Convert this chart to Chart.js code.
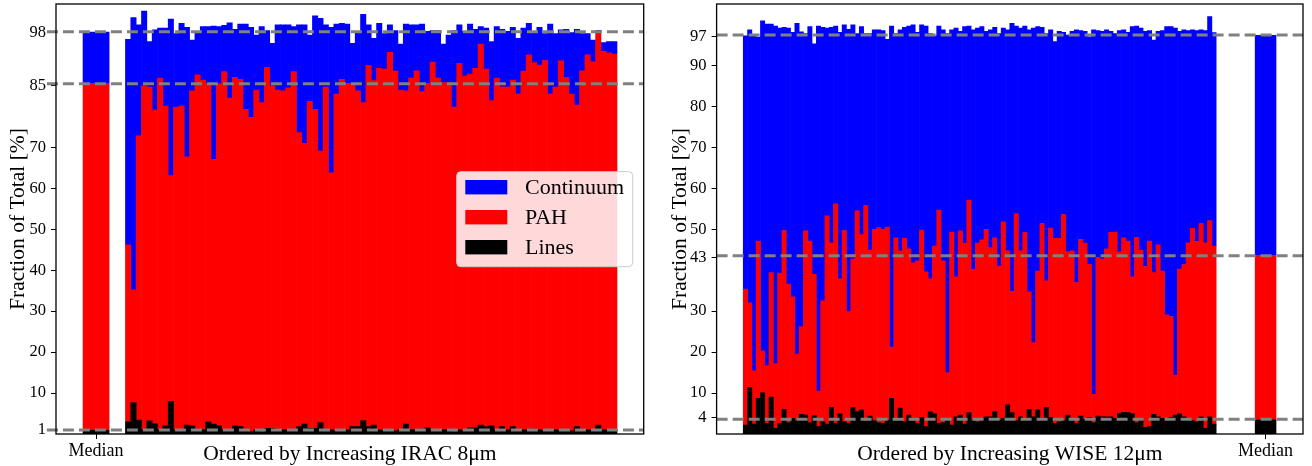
<!DOCTYPE html>
<html><head><meta charset="utf-8">
<script src="https://cdn.jsdelivr.net/npm/chart.js@4.4.0/dist/chart.umd.min.js"></script>
<style>
html,body{margin:0;padding:0;background:#fff;width:1312px;height:466px;overflow:hidden}
canvas{position:absolute;top:0}
#cl{left:0}
#cr{left:656px}
</style></head><body>
<canvas id="cl" width="656" height="466"></canvas>
<canvas id="cr" width="656" height="466"></canvas>
<script>
// ---------- tick labels ----------
const yTicksIRAC = [1,10,20,30,40,50,60,70,85,98];
const yTicksWISE = [4,10,20,30,43,50,60,70,80,90,97];
const seriesNames = ['Lines','PAH','Continuum'];

// ---------- IRAC 8um ordered sample (percent of total) ----------
const iracLines = [3.0,7.7,3.4,1.0,3.2,2.5,1.0,2.0,8.0,1.1,
 1.0,2.2,2.0,1.0,1.1,3.0,2.4,2.0,1.0,1.0,
 2.0,1.8,1.0,0.6,1.0,0.6,1.4,1.4,1.0,1.1,
 1.0,1.0,1.8,2.4,1.4,1.4,2.8,1.0,1.0,0.8,
 1.0,1.0,1.8,1.8,3.3,1.8,2.2,1.0,0.8,1.0,
 0.8,1.0,2.4,1.1,1.0,1.2,1.5,1.0,1.0,1.1,
 1.0,0.6,1.0,0.7,1.5,1.5,2.2,1.8,2.0,1.0,
 1.8,1.0,1.8,0.8,1.0,1.0,1.2,1.0,0.8,1.0,
 1.0,0.8,1.0,0.8,1.8,1.0,1.0,1.0,2.2,1.0,
 1.0,1.0];
const iracPAH = [43.2,27.5,69.4,84.0,81.5,76.6,85.9,78.1,55.1,78.7,
 79.1,65.5,81.8,86.7,85.3,82.5,64.7,83.5,87.5,81.0,
 85.1,84.8,78.3,76.7,83.0,80.3,88.1,83.6,83.0,82.7,
 83.5,87.5,71.8,68.6,79.8,77.9,66.3,83.7,62.8,82.2,
 85.6,84.6,83.8,82.0,77.6,88.2,84.1,88.3,88.3,92.2,
 87.8,83.0,81.4,85.8,87.7,82.4,84.1,89.8,85.9,84.7,
 84.8,79.2,89.5,86.7,86.4,87.8,93.0,87.3,79.4,85.9,
 83.0,83.7,84.6,82.2,87.6,91.6,89.5,89.1,90.4,82.0,
 83.7,90.3,86.1,82.2,78.5,87.7,91.6,89.9,96.1,92.4,
 92.1,91.8];
const iracCont = [50.2,66.5,27.1,18.3,11.1,19.6,12.2,19.0,38.2,18.0,
 20.2,31.6,12.4,10.6,13.1,14.0,32.5,14.0,11.3,18.4,
 11.7,13.5,20.8,22.0,13.4,18.6,9.0,10.4,15.9,16.1,
 15.4,11.0,26.3,28.9,16.2,22.8,32.4,15.2,35.5,17.1,
 13.7,14.5,9.8,14.2,21.6,9.9,10.3,11.0,8.7,6.7,
 9.9,11.2,16.3,13.0,11.2,16.5,12.7,7.7,11.6,9.4,
 11.6,18.7,9.4,10.9,12.2,9.5,4.3,10.0,14.4,12.6,
 14.0,13.6,12.9,13.6,10.5,7.7,7.3,9.2,6.6,17.1,
 13.1,7.6,11.7,15.0,18.5,9.1,5.2,5.3,0.3,2.2,
 2.7,3.0];
const iracMedian = [1.0, 84.5, 12.7]; // Lines, PAH, Continuum

// ---------- WISE 12um ordered sample (percent of total) ----------
const wiseLines = [2.2,11.4,2.4,8.7,10.1,2.6,9.0,1.4,2.6,6.0,
 2.8,3.8,3.3,4.8,4.6,2.8,4.5,1.8,3.0,2.4,
 6.5,2.6,5.0,3.0,2.6,6.5,5.5,5.9,3.3,4.4,
 3.3,2.8,2.6,3.3,8.7,3.3,6.3,3.0,4.6,3.3,
 2.6,4.1,1.8,5.5,5.0,2.6,2.8,3.4,2.2,4.2,
 4.6,2.4,5.2,3.3,3.0,3.8,4.2,4.2,5.5,3.4,
 3.8,7.1,5.2,3.3,4.2,3.4,6.0,4.2,5.9,3.6,
 6.5,4.1,2.6,3.0,3.3,4.6,3.6,2.6,4.4,3.6,
 4.1,2.8,4.4,4.2,4.2,4.2,3.8,5.0,5.3,5.2,
 5.0,2.8,3.6,1.6,1.8,4.8,4.2,3.8,3.4,4.1,
 4.6,4.9,4.2,3.4,3.3,3.0,4.2,1.4,4.2,2.4];
const wisePAH = [33.2,20.6,13.0,38.4,10.2,14.1,30.4,15.8,36.7,43.7,
 33.8,29.7,16.2,21.4,45.0,44.3,34.5,8.7,29.5,50.9,
 40.1,53.6,32.9,46.7,27.3,36.2,49.0,42.8,52.5,40.5,
 46.7,47.6,47.4,47.2,12.5,44.6,38.4,44.8,40.6,38.5,
 39.7,45.7,37.8,32.4,40.9,52.1,39.5,11.6,47.1,34.2,
 45.0,44.2,51.9,36.9,43.6,43.6,45.8,41.3,42.4,37.6,
 48.0,37.6,29.6,50.5,40.5,45.8,28.7,18.1,33.9,47.8,
 30.9,46.2,45.2,44.8,50.3,39.9,41.1,34.4,43.1,43.0,
 37.3,6.9,38.7,38.5,41.0,45.0,45.5,39.5,42.6,41.9,
 33.4,45.2,41.3,39.3,45.3,34.6,42.0,36.0,25.7,24.6,
 9.8,35.4,37.2,43.3,46.9,44.0,47.2,45.3,47.9,43.5];
const wiseCont = [61.8,66.7,82.0,49.8,80.6,83.4,60.7,82.4,59.8,49.6,
 62.5,64.6,80.8,72.0,48.2,52.4,56.3,89.1,66.8,45.8,
 52.7,43.4,60.2,50.2,68.9,57.2,43.3,50.8,42.0,52.9,
 48.7,48.3,48.5,45.9,78.4,49.9,54.0,51.5,54.4,58.1,
 55.8,50.1,60.0,59.9,51.3,44.9,56.4,82.8,49.4,60.7,
 48.7,52.9,42.5,58.5,52.5,52.1,48.3,53.2,51.4,56.8,
 47.3,54.0,65.5,45.8,54.4,50.4,64.0,76.8,59.7,47.9,
 60.4,48.4,48.0,50.5,44.5,52.9,53.6,61.7,51.0,51.7,
 55.6,89.0,55.4,55.6,53.5,49.1,48.5,54.0,50.8,51.0,
 61.1,51.6,54.2,57.4,51.4,56.8,52.1,58.7,70.4,70.8,
 84.7,58.0,57.3,51.8,48.5,51.5,47.3,51.8,49.8,52.1];
const wiseMedian = [3.6, 39.9, 53.9]; // Lines, PAH, Continuum

// ---------- styling ----------
const FONT = "'Liberation Serif', 'Times New Roman', serif";
const COLORS = {Lines:'#000000', PAH:'#ff0000', Continuum:'#0000ff'};
Chart.defaults.font.family = FONT;
Chart.defaults.color = '#000';

const framePlugin = {
  id: 'frame',
  afterDatasetsDraw(chart) {
    const {ctx, chartArea: a} = chart;
    ctx.save();
    ctx.strokeStyle = '#000';
    ctx.lineWidth = 1.3;
    ctx.strokeRect(a.left, a.top, a.right - a.left, a.bottom - a.top);
    ctx.restore();
  }
};

const legendPlugin = {
  id: 'boxLegend',
  afterDraw(chart, args, opts) {
    if (!opts.show) return;
    const ctx = chart.ctx;
    const items = opts.order;
    ctx.save();
    const x = opts.x, y = opts.y, w = opts.w, h = opts.h, r = 4;
    ctx.beginPath();
    ctx.roundRect(x, y, w, h, r);
    ctx.fillStyle = 'rgba(255,255,255,0.85)';
    ctx.fill();
    ctx.strokeStyle = '#cccccc';
    ctx.lineWidth = 1;
    ctx.stroke();
    ctx.font = opts.fontSize + 'px ' + FONT;
    ctx.textBaseline = 'middle';
    ctx.textAlign = 'left';
    items.forEach((name, k) => {
      const cy = opts.firstRow + k * opts.rowStep;
      ctx.fillStyle = COLORS[name];
      ctx.fillRect(opts.patchX, cy - 7.2, 42, 14.4);
      ctx.fillStyle = '#000';
      ctx.fillText(name, opts.textX, cy + 1);
    });
    ctx.restore();
  }
};

function build(id, p) {
  const mk = arr => arr.map((v, i) => ({x: i, y: v}));
  const med = v => [{x: p.medPos, y: v}];
  const base = {type: 'bar', barPercentage: 1, categoryPercentage: 1, grouped: false, borderWidth: 0, order: 2};
  const data = [p.lines, p.pah, p.cont];
  const datasets = [];
  seriesNames.forEach((name, k) => {
    datasets.push({...base, label: name, data: mk(data[k]), backgroundColor: COLORS[name], stack: 'obs'});
  });
  seriesNames.forEach((name, k) => {
    datasets.push({...base, label: name + ' median', data: med(p.median[k]), backgroundColor: COLORS[name], stack: 'med', barPercentage: 5});
  });
  let c = 0;
  p.median.forEach((v, k) => {
    c += v;
    datasets.push({type: 'line', label: 'median level ' + k, data: [{x: p.dashFrom, y: c}, {x: p.xmax, y: c}],
      borderColor: '#808080', borderWidth: 3, borderDash: [11, 5], pointRadius: 0, stack: 'dash' + k,
      order: 0, clip: false, fill: false, tension: 0});
  });

  return new Chart(document.getElementById(id), {
    type: 'bar',
    data: {datasets},
    plugins: [framePlugin, legendPlugin],
    options: {
      responsive: false, animation: false,
      layout: {padding: {top: 4, right: p.padRight, left: 0, bottom: 0}},
      plugins: {
        legend: {display: false}, tooltip: {enabled: false},
        boxLegend: p.legend
      },
      scales: {
        x: {
          type: 'linear', min: p.xmin, max: p.xmax, offset: false,
          afterBuildTicks: s => { s.ticks = [{value: p.medPos}]; },
          afterFit: s => { s.height = 32; s.paddingLeft = 0; s.paddingRight = 0; },
          ticks: {callback: () => 'Median', autoSkip: false, maxRotation: 0, font: {size: 18}, color: '#000', padding: 1},
          grid: {offset: false, drawOnChartArea: false, drawTicks: true, tickLength: 5, color: '#000', tickWidth: 1},
          border: {display: false},
          title: {display: true, text: p.xTitle, font: {size: 21.5, lineHeight: 1}, color: '#000', padding: {bottom: 1.3, top: 0}}
        },
        y: {
          type: 'linear', stacked: true, min: 0, max: 105,
          afterBuildTicks: s => { s.ticks = p.yTicks.map(v => ({value: v})); },
          afterFit: s => { s.width = p.yWidth; s.paddingTop = 0; s.paddingBottom = 0; },
          ticks: {autoSkip: false, font: {size: 16.5}, color: '#000', padding: 5},
          grid: {offset: false, drawOnChartArea: false, drawTicks: true, tickLength: 5, color: '#000', tickWidth: 1},
          border: {display: false},
          title: {display: true, text: 'Fraction of Total [%]', font: {size: 21.5, lineHeight: 1}, color: '#000', padding: {top: p.yTitlePad, bottom: 0}}
        }
      }
    }
  });
}

build('cl', {
  lines: iracLines, pah: iracPAH, cont: iracCont, median: iracMedian,
  medPos: -6, xmin: -13.5, xmax: 96.5, dashFrom: -15.2,
  padRight: 12.3, yWidth: 56, yTicks: yTicksIRAC, yTitlePad: 7.5,
  xTitle: 'Ordered by Increasing IRAC 8\u03bcm',
  legend: {show: true, order: ['Continuum', 'PAH', 'Lines'], x: 456.7, y: 171.7, w: 176, h: 95,
    patchX: 465.3, textX: 525, firstRow: 187.2, rowStep: 30, fontSize: 22}
});
build('cr', {
  lines: wiseLines, pah: wisePAH, cont: wiseCont, median: wiseMedian,
  medPos: 121, xmin: -6.7, xmax: 129.7, dashFrom: -6.7,
  padRight: 9, yWidth: 60.6, yTicks: yTicksWISE, yTitlePad: 13.5,
  xTitle: 'Ordered by Increasing WISE 12\u03bcm',
  legend: {show: false}
});
</script>
</body></html>
